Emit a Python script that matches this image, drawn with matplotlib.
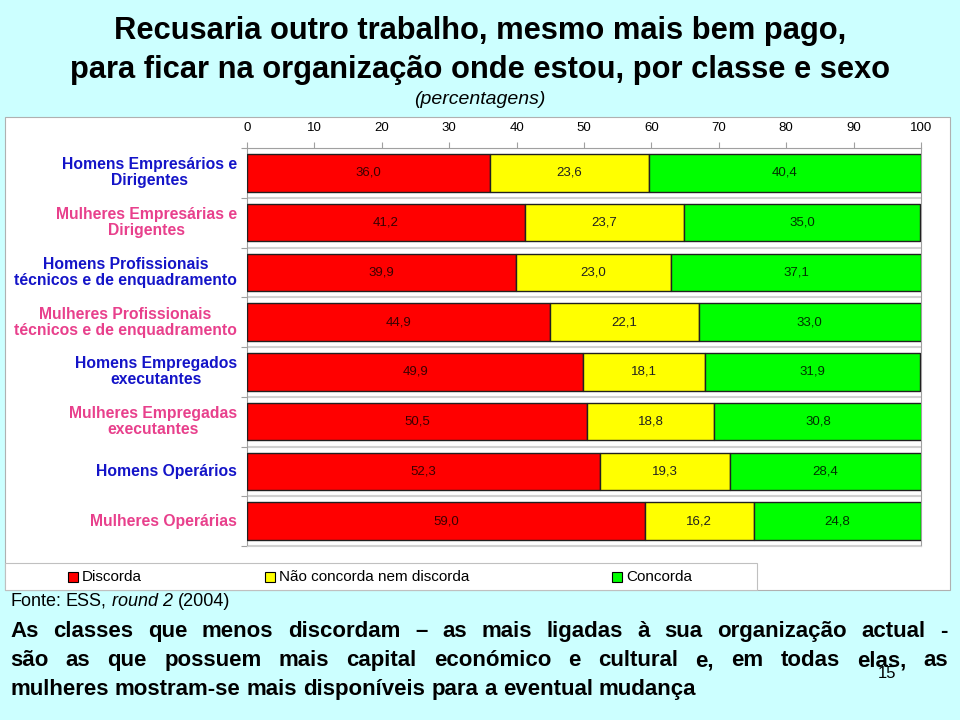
import matplotlib
matplotlib.use('Agg')
import matplotlib.pyplot as plt
from matplotlib.patches import Rectangle
import numpy as np

categorias = ['Homens Empresários e\nDirigentes',
              'Mulheres Empresárias e\nDirigentes',
              'Homens Profissionais\ntécnicos e de enquadramento',
              'Mulheres Profissionais\ntécnicos e de enquadramento',
              'Homens Empregados\nexecutantes',
              'Mulheres Empregadas\nexecutantes',
              'Homens Operários',
              'Mulheres Operárias']
cores_cat = ['#1414c8', '#e8408c'] * 4

discorda = [36.0, 41.2, 39.9, 44.9, 49.9, 50.5, 52.3, 59.0]
neutro = [23.6, 23.7, 23.0, 22.1, 18.1, 18.8, 19.3, 16.2]
concorda = [40.4, 35.0, 37.1, 33.0, 31.9, 30.8, 28.4, 24.8]

series = [discorda, neutro, concorda]
nomes = ['Discorda', 'Não concorda nem discorda', 'Concorda']
cores = ['#ff0000', '#ffff00', '#00ff00']
xticks = list(range(0, 101, 10))

SANS = ['Liberation Sans', 'DejaVu Sans']

fig = plt.figure(figsize=(9.6, 7.2), dpi=100)
fig.patch.set_facecolor('#ccffff')

# white panel behind chart
fig.add_artist(Rectangle((5/960, 1-590/720), 945/960, 473/720, transform=fig.transFigure,
                         facecolor='white', edgecolor='#b0b0b0', lw=0.8, zorder=0))
# legend box
fig.add_artist(Rectangle((5/960, 1-590/720), 752/960, 27/720, transform=fig.transFigure,
                         facecolor='white', edgecolor='#c0c0c0', lw=0.8, zorder=0))

ax = fig.add_axes([247/960, 1-546/720, 674/960, 398/720])
ax.set_facecolor('white')

y = np.arange(len(categorias))
esq = np.zeros(len(categorias))
txt_cores = ['#3a0000', '#202020', '#003000']
for vals, cor, tc in zip(series, cores, txt_cores):
    vals = np.array(vals)
    ax.barh(y, vals, left=esq, height=0.75, color=cor, edgecolor='#202020', lw=1.0, zorder=3)
    for yi, l, v in zip(y, esq, vals):
        ax.text(l + v/2, yi, f'{v:.1f}'.replace('.', ','), ha='center', va='center',
                fontsize=9.5, color=tc, family=SANS, zorder=4)
    esq += vals

for b in np.arange(-0.5, len(categorias), 1):
    ax.axhline(b, color='#d0d0d0', lw=1.5, zorder=1)

ax.set_xlim(0, 100)
ax.set_ylim(len(categorias) - 0.5, -0.5)
ax.xaxis.tick_top()
ax.set_xticks(xticks)
ax.set_xticklabels([str(t) for t in xticks], family=SANS, fontsize=9.5)
ax.tick_params(axis='x', length=4, color='#a0a0a0', pad=6)
ax.set_yticks(np.arange(-0.5, len(categorias), 1))
ax.set_yticklabels([])
ax.tick_params(axis='y', length=4, color='#a0a0a0')
for s in ['top', 'left', 'right']:
    ax.spines[s].set_color('#a0a0a0')
ax.spines['bottom'].set_color('#d0d0d0')

for yi, (lab, c) in enumerate(zip(categorias, cores_cat)):
    ax.text(-1.5, yi, lab, ha='right', va='center', multialignment='center',
            fontsize=11.3, fontweight='bold', color=c, family=SANS, linespacing=1.1,
            clip_on=False)

# legend
lx = [68, 265, 612]
for x0, nome, cor in zip(lx, nomes, cores):
    fig.add_artist(Rectangle((x0/960, 1-582/720), 10/960, 10/720, transform=fig.transFigure,
                             facecolor=cor, edgecolor='black', lw=0.8))
    fig.text((x0 + 14)/960, 1-577/720, nome, ha='left', va='center', fontsize=11, family=SANS)

# titles
fig.text(0.5, 1-31/720, 'Recusaria outro trabalho, mesmo mais bem pago,', ha='center', va='center',
         fontsize=22.2, fontweight='bold', family=SANS)
fig.text(0.5, 1-70/720, 'para ficar na organização onde estou, por classe e sexo', ha='center', va='center',
         fontsize=22.2, fontweight='bold', family=SANS)
fig.text(0.5, 1-100/720, '(percentagens)', ha='center', va='center', fontsize=14, style='italic', family=SANS)

fig.canvas.draw()
r = fig.canvas.get_renderer()


def put_words(x_px, y_px, parts, width=None, size=16, weight='bold'):
    # parts: list of (word, style); y_px is the baseline
    arts = []
    for w, st in parts:
        a = fig.text(0, 1 - y_px/720, w, ha='left', va='baseline', fontsize=size, fontweight=weight,
                     style=st, family=SANS)
        arts.append(a)
    ws = [a.get_window_extent(r).width for a in arts]
    if width is None:
        gap = fig.text(0, 0, 'a b', fontsize=size, fontweight=weight, family=SANS)
        g2 = fig.text(0, 0, 'ab', fontsize=size, fontweight=weight, family=SANS)
        sp = gap.get_window_extent(r).width - g2.get_window_extent(r).width
        gap.remove(); g2.remove()
    else:
        sp = (width - sum(ws)) / max(len(ws) - 1, 1)
    x = x_px
    for a, w in zip(arts, ws):
        a.set_x(x / 960)
        x += w + sp
    return x


# fonte
put_words(10, 606, [('Fonte:', 'normal'), ('ESS,', 'normal'), ('round 2', 'italic'), ('(2004)', 'normal')],
          size=13, weight='normal')

linha1 = 'As classes que menos discordam – as mais ligadas à sua organização actual -'
linha2 = 'são as que possuem mais capital económico e cultural e, em todas elas, as'
linha3 = 'mulheres mostram-se mais disponíveis para a eventual mudança'
put_words(10, 637, [(w, 'normal') for w in linha1.split()], width=938)
put_words(10, 666, [(w, 'normal') for w in linha2.split()], width=938)
put_words(10, 695, [(w, 'normal') for w in linha3.split()])

fig.text(887/960, 1-674/720, '15', ha='center', va='center', fontsize=12, family=SANS)

fig.savefig('out.png', dpi=100, facecolor=fig.get_facecolor())
